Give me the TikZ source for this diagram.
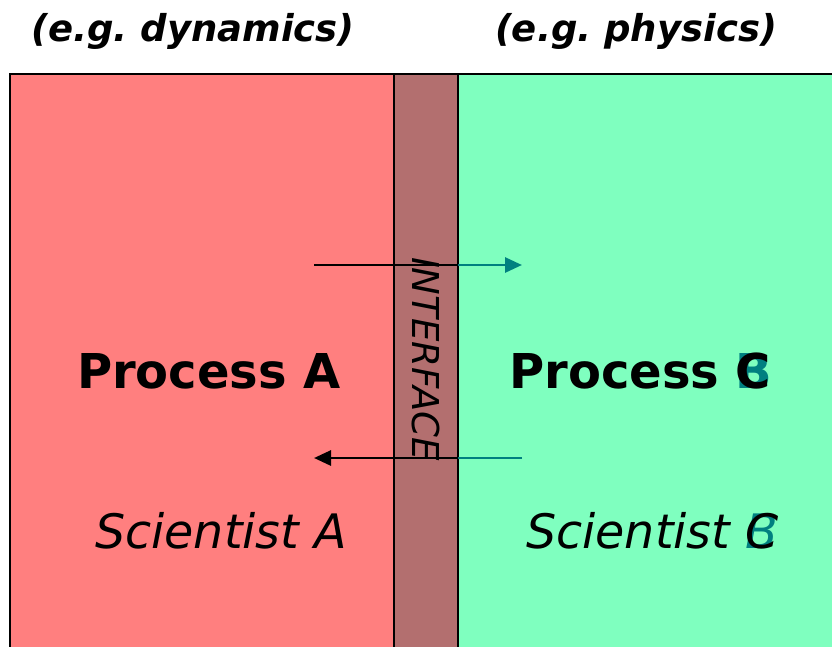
\documentclass[tikz,border=0pt]{standalone}
\usepackage{fontspec}
\setmainfont{DejaVu Sans}
\usepackage{tikz}
\usetikzlibrary{arrows.meta}
\definecolor{procred}{RGB}{255,127,127}
\definecolor{procgreen}{RGB}{127,255,191}
\definecolor{ifacebrown}{RGB}{179,111,111}
\definecolor{overteal}{RGB}{0,128,128}
\frenchspacing

\begin{document}
\begin{tikzpicture}[x=1pt,y=-1pt,
	header/.style={font=\fontsize{37}{44}\selectfont\bfseries\itshape, inner sep=0pt},
	proc/.style={font=\fontsize{48}{57}\selectfont\bfseries, inner sep=0pt},
	sci/.style={font=\fontsize{47.5}{57}\selectfont\itshape, inner sep=0pt},
	iface/.style={font=\fontsize{37}{44}\selectfont\itshape, inner sep=0pt},
	flow/.style={line width=2.8pt, -{Triangle[length=17pt,width=15pt]}}]
	\useasboundingbox (0,0) rectangle (832,646);
	\clip (0,0) rectangle (832,646);
	% the three columns
	\draw[fill=procred, line width=2pt] (10,74) rectangle (394,700);
	\draw[fill=ifacebrown, line width=2pt] (394,74) rectangle (458,700);
	\draw[fill=procgreen, line width=2pt] (458,74) rectangle (900,700);
	\node[header] (dyn) at (193,31) {(e.g. dynamics)};
	\node[header] (phys) at (636,31) {(e.g. physics)};
	\node[iface, rotate=-90] (iface) at (426,359) {INTERFACE};
	\node[proc, anchor=base] (procA) at (209,388) {Process A};
	\node[proc, anchor=base west, text=overteal] (procB) at (509,388) {\phantom{Process }B};
	\node[proc, anchor=base west] (procC) at (509,388) {Process C};
	\node[sci, anchor=base] (sciA) at (221,548) {Scientist A};
	\node[sci, anchor=base west, text=overteal] (sciB) at (526,548) {\phantom{Scientist }B};
	\node[sci, anchor=base west] (sciC) at (526,548) {Scientist C};
	% arrows across the interface
	\coordinate (outA) at (314,265);
	\coordinate (outI) at (458,265);
	\coordinate (outC) at (522,265);
	\coordinate (inA) at (314,458);
	\coordinate (inI) at (458,458);
	\coordinate (inC) at (522,458);
	\draw[flow, overteal] (outA) -- (outC);
	\draw[line width=2.8pt] (outA) -- (outI);
	\draw[line width=2.8pt, overteal] (inC) -- (inI);
	\draw[flow] (inI) -- (inA);
\end{tikzpicture}
\end{document}
